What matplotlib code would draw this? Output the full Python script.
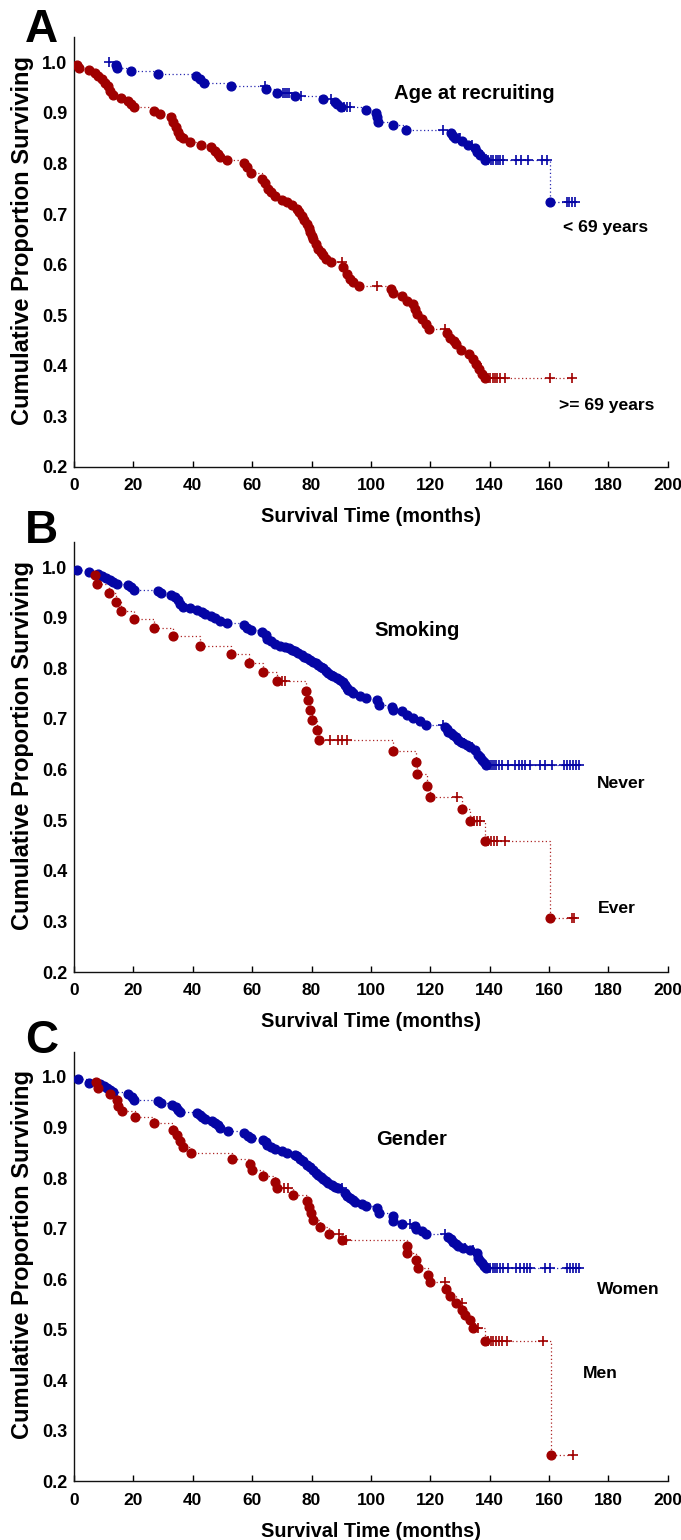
import numpy as np
import matplotlib
matplotlib.use("Agg")
from matplotlib import pyplot as plt

plt.rcParams['font.family'] = ['Liberation Sans', 'DejaVu Sans']
plt.rcParams['font.weight'] = 'bold'

# ---- data: event times (months) and survival after each event ----
# Panel A: age at recruiting
a_young_t = [14.2, 14.6, 19.1, 28.3, 41.1, 42.4, 43.8, 53.0, 64.6, 68.2, 74.4, 84.0, 87.9, 88.7,
             89.8, 98.3, 101.7, 102.1, 102.5, 107.3, 111.8, 126.8, 127.5, 128.3, 130.5, 132.8,
             135.0, 135.6, 136.7, 138.5, 160.3]
a_young_s = [0.995, 0.989, 0.983, 0.977, 0.972, 0.967, 0.959, 0.953, 0.947, 0.940, 0.933, 0.927,
             0.921, 0.917, 0.912, 0.906, 0.900, 0.892, 0.881, 0.875, 0.867, 0.860, 0.855, 0.850,
             0.845, 0.837, 0.830, 0.823, 0.817, 0.806, 0.724]
a_young_cens = [11.8, 64.3, 70.3, 71.0, 71.7, 72.4, 76.5, 86.6, 91.0, 92.0, 93.0, 124.4, 129.5,
                130.0, 134.0, 136.0, 137.5, 139.4, 140.3, 141.2, 142.0, 142.8, 143.6, 144.4,
                149.0, 150.7, 152.9, 157.5, 159.2, 165.9, 166.8, 167.7, 168.7]

a_old_t = [0.9, 1.8, 5.2, 7.1, 8.2, 9.3, 10.4, 11.3, 12.1, 13.0, 15.7, 18.1, 19.1, 20.2, 26.9,
           29.0, 32.6, 33.4, 34.3, 35.1, 35.7, 36.6, 39.1, 42.7, 46.0, 47.5, 48.6, 49.2, 51.4,
           57.2, 58.4, 59.5, 63.3, 64.3, 65.4, 66.5, 67.7, 69.9, 71.6, 73.3, 75.0, 75.8, 76.7,
           77.5, 78.3, 79.0, 79.5, 80.1, 80.6, 81.5, 82.3, 83.1, 83.9, 85.0, 86.7, 90.7, 91.8,
           92.9, 94.0, 96.1, 106.9, 107.3, 110.3, 112.2, 114.2, 114.8, 115.6, 117.1, 118.7,
           119.6, 125.5, 126.6, 128.0, 128.8, 130.2, 133.0, 134.4, 135.5, 136.5, 137.5, 138.4]
a_old_s = [0.995, 0.989, 0.984, 0.979, 0.972, 0.966, 0.959, 0.953, 0.944, 0.935, 0.929, 0.924,
           0.918, 0.911, 0.904, 0.898, 0.891, 0.881, 0.872, 0.862, 0.855, 0.850, 0.843, 0.837,
           0.832, 0.825, 0.819, 0.812, 0.806, 0.801, 0.792, 0.782, 0.770, 0.761, 0.750, 0.743,
           0.736, 0.728, 0.723, 0.718, 0.710, 0.704, 0.697, 0.688, 0.680, 0.672, 0.664, 0.657,
           0.651, 0.641, 0.631, 0.624, 0.618, 0.612, 0.605, 0.595, 0.582, 0.572, 0.565, 0.558,
           0.552, 0.544, 0.537, 0.529, 0.522, 0.512, 0.503, 0.493, 0.483, 0.473, 0.464, 0.455,
           0.449, 0.443, 0.431, 0.424, 0.414, 0.404, 0.394, 0.384, 0.376]
a_old_cens = [90.1, 102.1, 124.9, 135.8, 139.4, 140.2, 141.0, 141.8, 142.6, 143.4, 145.0,
              160.3, 167.6]

# Panel B: smoking
b_never_t = [1.1, 5.2, 8.2, 9.3, 10.8, 12.1, 13.2, 14.6, 18.1, 19.1, 20.2, 28.4, 29.2, 32.6,
             34.0, 35.1, 35.7, 36.6, 39.1, 41.3, 43.0, 44.1, 46.0, 47.5, 49.2, 51.4, 57.2, 58.4,
             59.5, 63.4, 64.5, 65.1, 66.2, 67.7, 69.4, 71.0, 72.5, 73.3, 74.5, 75.5, 76.7, 77.5,
             78.4, 79.5, 80.6, 81.5, 82.3, 83.1, 84.0, 85.0, 85.6, 86.5, 87.3, 88.5, 89.6, 90.5,
             91.2, 92.0, 92.4, 93.2, 94.0, 96.3, 98.5, 101.9, 102.8, 107.0, 107.5, 110.3, 112.0,
             114.2, 116.5, 118.5, 124.9, 125.5, 126.0, 126.8, 127.7, 128.5, 129.4, 130.2, 131.1,
             132.2, 133.3, 135.0, 136.1, 136.7, 137.3, 138.0, 138.7]
b_never_s = [0.995, 0.990, 0.987, 0.983, 0.978, 0.974, 0.970, 0.967, 0.964, 0.960, 0.955,
             0.952, 0.949, 0.945, 0.941, 0.934, 0.927, 0.922, 0.919, 0.916, 0.912, 0.908,
             0.904, 0.899, 0.893, 0.890, 0.886, 0.879, 0.875, 0.871, 0.866, 0.858, 0.853,
             0.848, 0.844, 0.842, 0.840, 0.837, 0.834, 0.830, 0.826, 0.823, 0.820, 0.816,
             0.813, 0.810, 0.807, 0.803, 0.800, 0.795, 0.790, 0.787, 0.784, 0.780, 0.777,
             0.772, 0.767, 0.762, 0.758, 0.755, 0.751, 0.746, 0.741, 0.738, 0.728, 0.723,
             0.718, 0.715, 0.708, 0.702, 0.695, 0.688, 0.685, 0.680, 0.675, 0.672, 0.669,
             0.664, 0.659, 0.655, 0.652, 0.648, 0.645, 0.639, 0.629, 0.624, 0.619, 0.614, 0.609]
b_never_cens = [124.3, 131.5, 134.0, 139.4, 140.1, 140.8, 141.5, 142.2, 143.0, 144.0, 146.0,
                148.5, 150.0, 151.0, 152.0, 153.5, 157.0, 158.5, 161.0, 165.0, 166.0, 167.0,
                168.0, 169.0, 170.0]

b_ever_t = [7.1, 7.9, 11.8, 14.3, 15.7, 20.3, 26.9, 33.2, 42.4, 52.8, 58.8, 63.5, 68.2, 78.1,
            78.8, 79.5, 80.0, 81.9, 82.5, 107.3, 115.2, 115.6, 119.0, 119.9, 130.5, 133.3,
            138.4, 160.3]
b_ever_s = [0.985, 0.967, 0.949, 0.931, 0.914, 0.897, 0.880, 0.863, 0.845, 0.828, 0.810, 0.793,
            0.775, 0.756, 0.737, 0.717, 0.698, 0.678, 0.659, 0.636, 0.614, 0.591, 0.568, 0.545,
            0.522, 0.499, 0.459, 0.306]
b_ever_cens = [70.2, 71.1, 86.2, 89.0, 90.1, 91.8, 129.1, 134.8, 135.8, 136.8, 139.4, 140.5,
               141.5, 142.5, 145.0, 167.6, 168.4]

# Panel C: gender
c_women_t = [1.5, 5.2, 8.8, 10.1, 11.0, 12.1, 13.2, 18.3, 19.4, 20.3, 28.4, 29.3, 32.9, 34.2,
             35.1, 35.7, 41.3, 42.4, 43.0, 44.1, 46.4, 47.5, 48.6, 49.2, 51.7, 57.3, 58.7, 59.6,
             63.5, 64.5, 64.9, 66.2, 67.7, 69.9, 71.6, 74.4, 75.2, 76.1, 77.0, 78.3, 79.5, 80.6,
             81.5, 82.3, 83.1, 83.9, 84.8, 85.6, 86.8, 87.9, 89.0, 91.2, 92.0, 92.9, 93.8, 94.6,
             96.9, 98.5, 101.9, 102.8, 107.3, 107.5, 110.5, 114.8, 115.2, 117.1, 118.7, 126.0,
             126.8, 127.7, 128.5, 129.4, 131.1, 133.3, 135.6, 136.1, 136.7, 137.3, 138.0, 138.7]
c_women_s = [0.995, 0.989, 0.986, 0.983, 0.978, 0.974, 0.970, 0.966, 0.960, 0.955, 0.952,
             0.949, 0.945, 0.941, 0.935, 0.931, 0.929, 0.925, 0.921, 0.916, 0.912, 0.908,
             0.905, 0.899, 0.894, 0.889, 0.884, 0.879, 0.876, 0.872, 0.866, 0.862, 0.858,
             0.853, 0.850, 0.846, 0.843, 0.837, 0.833, 0.826, 0.822, 0.816, 0.811, 0.806,
             0.802, 0.798, 0.794, 0.790, 0.787, 0.783, 0.781, 0.770, 0.765, 0.760, 0.756,
             0.753, 0.749, 0.745, 0.741, 0.730, 0.726, 0.715, 0.710, 0.706, 0.699, 0.695,
             0.689, 0.684, 0.679, 0.674, 0.670, 0.666, 0.661, 0.658, 0.651, 0.642, 0.637,
             0.632, 0.627, 0.622]
c_women_cens = [90.3, 113.0, 124.9, 131.8, 134.5, 139.4, 140.2, 141.0, 141.8, 142.6, 143.4,
                144.5, 146.0, 149.0, 150.2, 151.4, 152.5, 153.5, 158.6, 160.3, 166.0, 167.0,
                168.0, 169.0, 170.0]

c_men_t = [7.3, 8.0, 12.1, 14.4, 14.9, 16.1, 20.5, 27.0, 33.4, 34.8, 35.7, 36.6, 39.3, 53.3,
           59.3, 59.8, 63.7, 67.7, 68.5, 73.6, 78.3, 79.2, 79.7, 80.4, 82.8, 85.9, 90.1, 112.0,
           112.2, 115.2, 115.9, 119.1, 119.9, 125.3, 126.6, 128.8, 130.7, 131.8, 133.3, 134.4,
           138.4, 160.5]
c_men_s = [0.990, 0.978, 0.966, 0.954, 0.943, 0.933, 0.920, 0.908, 0.896, 0.885, 0.874, 0.862,
           0.849, 0.837, 0.827, 0.815, 0.804, 0.793, 0.781, 0.767, 0.755, 0.743, 0.730, 0.717,
           0.703, 0.690, 0.677, 0.665, 0.651, 0.638, 0.622, 0.609, 0.594, 0.580, 0.567, 0.552,
           0.539, 0.530, 0.520, 0.503, 0.477, 0.253]
c_men_cens = [70.8, 72.2, 89.3, 91.5, 124.9, 130.5, 135.2, 136.2, 139.4, 140.3, 141.2, 142.1,
              143.0, 144.0, 145.8, 157.8, 168.0]

BLUE = '#0505a5'
RED = '#a00000'


def km_curve(ax, ev_t, ev_s, cens, color):
    ev_t = np.asarray(ev_t)
    ev_s = np.asarray(ev_s)
    cens = np.asarray(cens)
    xs = list(ev_t)
    ys = list(ev_s)
    if cens.min() < ev_t[0]:
        xs = [cens.min()] + xs
        ys = [1.0] + ys
    if cens.max() > ev_t[-1]:
        xs = xs + [cens.max()]
        ys = ys + [ev_s[-1]]
    ax.step(xs, ys, where='post', color=color, lw=0.9, ls=(0, (1, 2)), alpha=0.85, zorder=2)
    # survival level at each censoring time
    idx = np.searchsorted(ev_t, cens, side='right') - 1
    cy = np.where(idx < 0, 1.0, ev_s[np.clip(idx, 0, None)])
    ax.plot(cens, cy, ls='none', marker='+', ms=7, mew=1.2, color=color, zorder=3)
    ax.plot(ev_t, ev_s, ls='none', marker='o', ms=6.3, mec=color, mfc=color, zorder=4)


def style_axes(ax):
    ax.set_xlim(0, 200)
    ax.set_ylim(0.2, 1.05)
    ax.set_xticks(np.arange(0, 201, 20))
    ax.set_yticks(np.arange(0.2, 1.01, 0.1))
    ax.set_yticklabels(['%.1f' % v for v in np.arange(0.2, 1.01, 0.1)])
    for s in ['top', 'right']:
        ax.spines[s].set_visible(False)
    for s in ['left', 'bottom']:
        ax.spines[s].set_linewidth(1.0)
        ax.spines[s].set_color('#111111')
    ax.tick_params(axis='x', direction='in', length=4, width=1, pad=8, labelsize=12.5)
    ax.tick_params(axis='y', length=0, pad=5, labelsize=13)
    for lab in ax.get_xticklabels() + ax.get_yticklabels():
        lab.set_fontweight('bold')
    ax.set_xlabel('Survival Time (months)', fontsize=14.3, fontweight='bold')
    ax.set_ylabel('Cumulative Proportion Surviving', fontsize=17, fontweight='bold')
    ax.xaxis.set_label_coords(0.5, -0.094)
    ax.yaxis.set_label_coords(-0.068, 0.527)


fig = plt.figure(figsize=(6.81, 15.4), dpi=100)
axA = fig.add_axes([0.1087, 0.6968, 0.872, 0.2792])
axB = fig.add_axes([0.1087, 0.3688, 0.872, 0.2794])
axC = fig.add_axes([0.1087, 0.0380, 0.872, 0.2791])

km_curve(axA, a_young_t, a_young_s, a_young_cens, BLUE)
km_curve(axA, a_old_t, a_old_s, a_old_cens, RED)
km_curve(axB, b_never_t, b_never_s, b_never_cens, BLUE)
km_curve(axB, b_ever_t, b_ever_s, b_ever_cens, RED)
km_curve(axC, c_women_t, c_women_s, c_women_cens, BLUE)
km_curve(axC, c_men_t, c_men_s, c_men_cens, RED)

for ax in (axA, axB, axC):
    style_axes(ax)

title_kw = dict(ha='center', va='center', fontsize=14.6, fontweight='bold')
group_kw = dict(ha='center', va='center', fontsize=12.6, fontweight='bold')
axA.text(134.7, 0.939, 'Age at recruiting', **title_kw)
axA.text(179.0, 0.673, '< 69 years', **group_kw)
axA.text(179.5, 0.321, '>= 69 years', **group_kw)
axB.text(115.5, 0.874, 'Smoking', **title_kw)
axB.text(184.3, 0.572, 'Never', **group_kw)
axB.text(182.8, 0.325, 'Ever', **group_kw)
axC.text(113.7, 0.877, 'Gender', **title_kw)
axC.text(186.7, 0.580, 'Women', **group_kw)
axC.text(177.1, 0.413, 'Men', **group_kw)

fig.text(25 / 681, 1 - 42.5 / 1540, 'A', fontsize=33, fontweight='bold', va='baseline')
fig.text(25 / 681, 1 - 543 / 1540, 'B', fontsize=33, fontweight='bold', va='baseline')
fig.text(25 / 681, 1 - 1053 / 1540, 'C', fontsize=33, fontweight='bold', va='baseline')

fig.savefig('out.png', dpi=100)
